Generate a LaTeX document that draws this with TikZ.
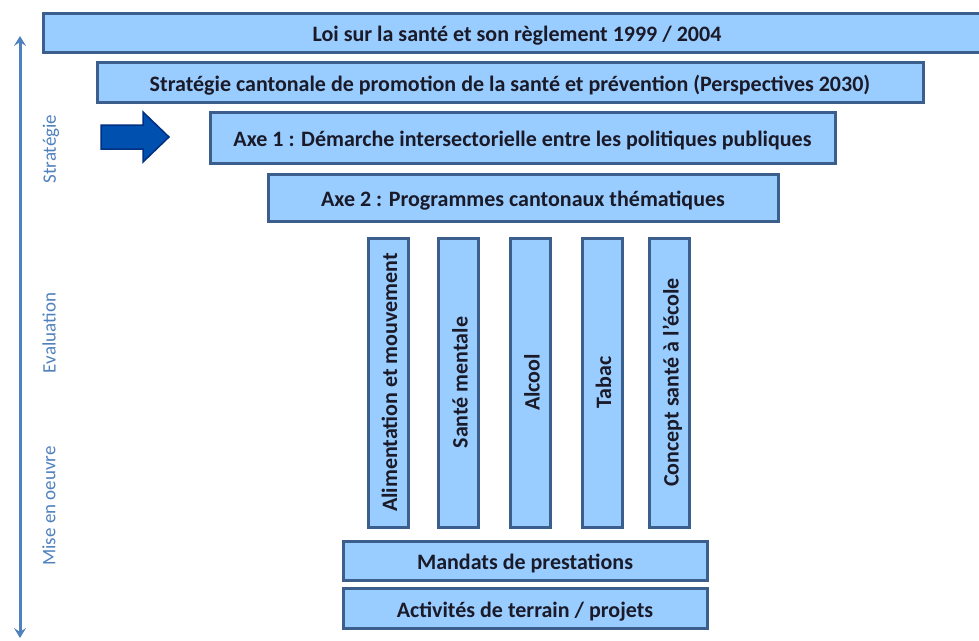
\documentclass[tikz,border=0pt]{standalone}
\usepackage{fontspec}
\setmainfont{Carlito}
\usetikzlibrary{arrows.meta}
\definecolor{boxfill}{HTML}{99CCFF}
\definecolor{boxline}{HTML}{3B5E8C}
\definecolor{txt}{HTML}{1A1A28}
\definecolor{axis}{HTML}{4F81BD}
\definecolor{barrow}{HTML}{0050B0}
\definecolor{barrowline}{HTML}{00307F}
\begin{document}
\begin{tikzpicture}[x=1pt,y=-1pt,
  box/.style={draw=boxline, fill=boxfill, line width=3pt, inner sep=0pt,
    text height=22pt, text depth=4pt,
    font=\fontsize{22}{24}\selectfont\bfseries, text=txt},
  vbox/.style={box, rotate=90, minimum width=289pt, minimum height=40pt},
  sidelab/.style={rotate=90, text=axis, font=\fontsize{19}{21}\selectfont}]
\useasboundingbox (0,0) rectangle (979,640);
\node[box, minimum width=948pt, minimum height=39pt] (loi) at (517,32.5) {Loi sur la santé et son règlement 1999 / 2004};
\node[box, minimum width=826pt, minimum height=40pt] (strat) at (510,82) {Stratégie cantonale de promotion de la santé et prévention (Perspectives 2030)};
\node[box, minimum width=625pt, minimum height=51pt] (axe1) at (522.5,137.5) {Axe 1 : Démarche intersectorielle entre les politiques publiques};
\node[box, minimum width=510pt, minimum height=47pt] (axe2) at (523,197.5) {Axe 2 : Programmes cantonaux thématiques};
\node[vbox] (alim) at (388,382.5) {Alimentation et mouvement};
\node[vbox] (ment) at (458.5,382.5) {Santé mentale};
\node[vbox] (alc) at (530.5,382.5) {Alcool};
\node[vbox] (tab) at (602,382.5) {Tabac};
\node[vbox] (ecole) at (669.5,382.5) {Concept santé à l’école};
\node[box, minimum width=364pt, minimum height=39pt] (mand) at (525,560.5) {Mandats de prestations};
\node[box, minimum width=364pt, minimum height=40pt] (act) at (525,608) {Activités de terrain / projets};
\draw[barrowline, fill=barrow, line width=1.5pt, line join=miter]
  (101,125) -- (143,125) -- (143,112) -- (169,137) -- (143,162) -- (143,149) -- (101,149) -- cycle;
\coordinate (atop) at (20,36);
\coordinate (abot) at (20,638);
\draw[axis, line width=3pt, {Stealth[length=10pt,width=12pt,inset=4pt]}-{Stealth[length=10pt,width=12pt,inset=4pt]}] (atop) -- (abot);
\node[sidelab] (lstrat) at (51,149) {Stratégie};
\node[sidelab] (leval) at (49,333) {Evaluation};
\node[sidelab] (lmise) at (49,506) {Mise en oeuvre};
\end{tikzpicture}
\end{document}
